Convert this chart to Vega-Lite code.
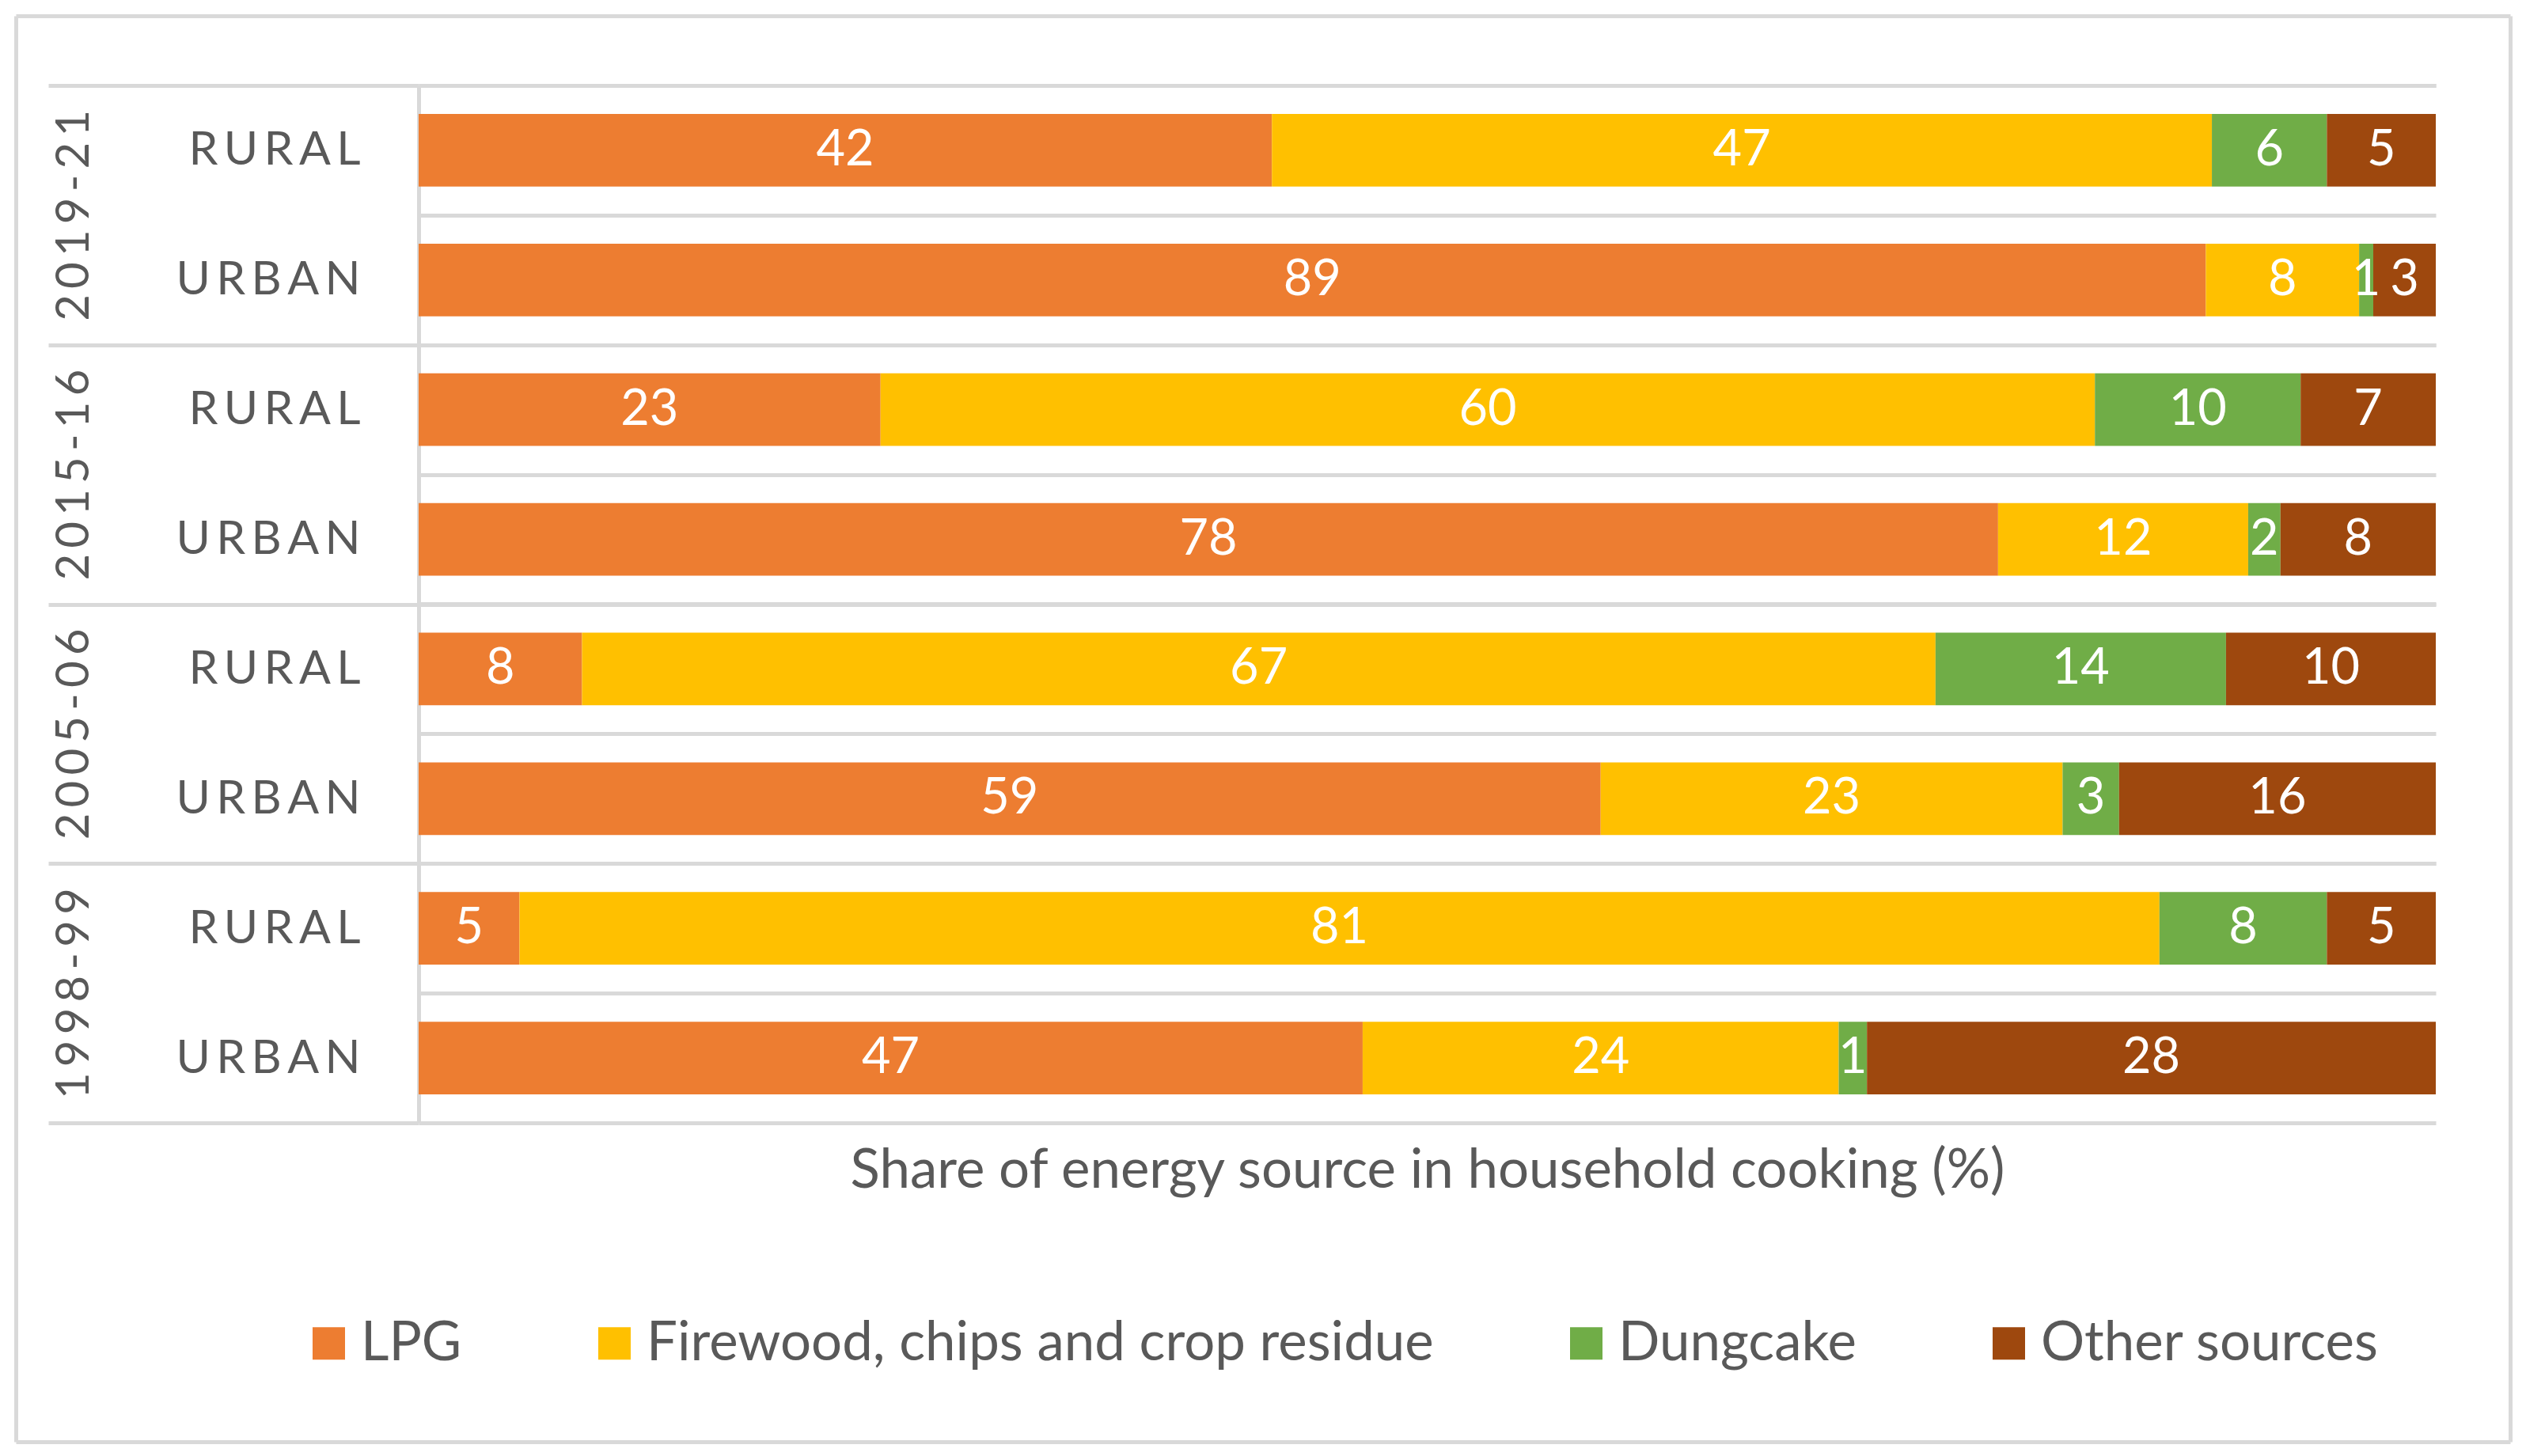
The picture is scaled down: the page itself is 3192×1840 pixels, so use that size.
{
  "$schema": "https://vega.github.io/schema/vega-lite/v6.json",
  "width": 2549,
  "height": 1311,
  "autosize": {"type": "none"},
  "padding": {"left": 529, "top": 108, "right": 114, "bottom": 421},
  "background": "white",
  "config": {"view": {"stroke": null}, "font": "Lato"},
  "datasets": {
    "shares": [
      {"period": "2019-21", "area": "RURAL", "row": "2019-21 RURAL", "source": "LPG", "order": 1, "value": 42.3},
      {"period": "2019-21", "area": "RURAL", "row": "2019-21 RURAL", "source": "Firewood, chips and crop residue", "order": 2, "value": 46.6},
      {"period": "2019-21", "area": "RURAL", "row": "2019-21 RURAL", "source": "Dungcake", "order": 3, "value": 5.7},
      {"period": "2019-21", "area": "RURAL", "row": "2019-21 RURAL", "source": "Other sources", "order": 4, "value": 5.4},
      {"period": "2019-21", "area": "URBAN", "row": "2019-21 URBAN", "source": "LPG", "order": 1, "value": 88.6},
      {"period": "2019-21", "area": "URBAN", "row": "2019-21 URBAN", "source": "Firewood, chips and crop residue", "order": 2, "value": 7.6},
      {"period": "2019-21", "area": "URBAN", "row": "2019-21 URBAN", "source": "Dungcake", "order": 3, "value": 0.7},
      {"period": "2019-21", "area": "URBAN", "row": "2019-21 URBAN", "source": "Other sources", "order": 4, "value": 3.1},
      {"period": "2015-16", "area": "RURAL", "row": "2015-16 RURAL", "source": "LPG", "order": 1, "value": 22.9},
      {"period": "2015-16", "area": "RURAL", "row": "2015-16 RURAL", "source": "Firewood, chips and crop residue", "order": 2, "value": 60.2},
      {"period": "2015-16", "area": "RURAL", "row": "2015-16 RURAL", "source": "Dungcake", "order": 3, "value": 10.2},
      {"period": "2015-16", "area": "RURAL", "row": "2015-16 RURAL", "source": "Other sources", "order": 4, "value": 6.7},
      {"period": "2015-16", "area": "URBAN", "row": "2015-16 URBAN", "source": "LPG", "order": 1, "value": 78.3},
      {"period": "2015-16", "area": "URBAN", "row": "2015-16 URBAN", "source": "Firewood, chips and crop residue", "order": 2, "value": 12.4},
      {"period": "2015-16", "area": "URBAN", "row": "2015-16 URBAN", "source": "Dungcake", "order": 3, "value": 1.6},
      {"period": "2015-16", "area": "URBAN", "row": "2015-16 URBAN", "source": "Other sources", "order": 4, "value": 7.7},
      {"period": "2005-06", "area": "RURAL", "row": "2005-06 RURAL", "source": "LPG", "order": 1, "value": 8.1},
      {"period": "2005-06", "area": "RURAL", "row": "2005-06 RURAL", "source": "Firewood, chips and crop residue", "order": 2, "value": 67.1},
      {"period": "2005-06", "area": "RURAL", "row": "2005-06 RURAL", "source": "Dungcake", "order": 3, "value": 14.4},
      {"period": "2005-06", "area": "RURAL", "row": "2005-06 RURAL", "source": "Other sources", "order": 4, "value": 10.4},
      {"period": "2005-06", "area": "URBAN", "row": "2005-06 URBAN", "source": "LPG", "order": 1, "value": 58.6},
      {"period": "2005-06", "area": "URBAN", "row": "2005-06 URBAN", "source": "Firewood, chips and crop residue", "order": 2, "value": 22.9},
      {"period": "2005-06", "area": "URBAN", "row": "2005-06 URBAN", "source": "Dungcake", "order": 3, "value": 2.8},
      {"period": "2005-06", "area": "URBAN", "row": "2005-06 URBAN", "source": "Other sources", "order": 4, "value": 15.7},
      {"period": "1998-99", "area": "RURAL", "row": "1998-99 RURAL", "source": "LPG", "order": 1, "value": 5.0},
      {"period": "1998-99", "area": "RURAL", "row": "1998-99 RURAL", "source": "Firewood, chips and crop residue", "order": 2, "value": 81.3},
      {"period": "1998-99", "area": "RURAL", "row": "1998-99 RURAL", "source": "Dungcake", "order": 3, "value": 8.3},
      {"period": "1998-99", "area": "RURAL", "row": "1998-99 RURAL", "source": "Other sources", "order": 4, "value": 5.4},
      {"period": "1998-99", "area": "URBAN", "row": "1998-99 URBAN", "source": "LPG", "order": 1, "value": 46.8},
      {"period": "1998-99", "area": "URBAN", "row": "1998-99 URBAN", "source": "Firewood, chips and crop residue", "order": 2, "value": 23.6},
      {"period": "1998-99", "area": "URBAN", "row": "1998-99 URBAN", "source": "Dungcake", "order": 3, "value": 1.4},
      {"period": "1998-99", "area": "URBAN", "row": "1998-99 URBAN", "source": "Other sources", "order": 4, "value": 28.2}
    ]
  },
  "data": {"name": "shares"},
  "layer": [
    {
      "encoding": {
        "y": {
          "field": "row",
          "type": "nominal",
          "sort": ["2019-21 RURAL", "2019-21 URBAN", "2015-16 RURAL", "2015-16 URBAN", "2005-06 RURAL", "2005-06 URBAN", "1998-99 RURAL", "1998-99 URBAN"],
          "scale": {"paddingInner": 0.44, "paddingOuter": 0.22},
          "axis": {
            "orient": "left",
            "title": null,
            "ticks": false,
            "domain": true,
            "domainColor": "#d9d9d9",
            "domainWidth": 5,
            "grid": true,
            "gridColor": "#d9d9d9",
            "gridWidth": 5,
            "tickOffset": -81.94,
            "labelOffset": 81.94,
            "labelExpr": "join(split(slice(datum.value, 8), ''), '\u2009')",
            "labelFontSize": 59,
            "labelLimit": 1000,
            "labelColor": "#595959",
            "labelPadding": 74,
            "labelAlign": "right",
            "labelBaseline": "middle"
          }
        }
      },
      "layer": [
        {
          "mark": {"type": "bar"},
          "encoding": {
            "x": {
              "field": "value",
              "type": "quantitative",
              "stack": "zero",
              "scale": {"domain": [0, 100], "nice": false},
              "axis": {
                "orient": "bottom",
                "title": "Share of energy source in household cooking (%)",
                "labels": false,
                "ticks": false,
                "domain": false,
                "grid": false,
                "titleFontSize": 69,
                "titleFontWeight": "normal",
                "titleColor": "#595959",
                "titlePadding": 26
              }
            },
            "color": {
              "field": "source",
              "type": "nominal",
              "scale": {
                "domain": ["LPG", "Firewood, chips and crop residue", "Dungcake", "Other sources"],
                "range": ["#ED7D31", "#FFC000", "#70AD47", "#9E480E"]
              },
              "legend": {
                "title": null,
                "orient": "none",
                "legendX": -148,
                "legendY": 1555,
                "padding": 0,
                "direction": "horizontal",
                "symbolType": "square",
                "symbolSize": 1681,
                "symbolStrokeWidth": 0,
                "labelFontSize": 69,
                "labelColor": "#595959",
                "labelOffset": 6,
                "labelLimit": 2000,
                "columnPadding": 158
              }
            },
            "order": {"field": "order", "type": "quantitative"}
          }
        },
        {
          "transform": [
            {"stack": "value", "groupby": ["row"], "sort": [{"field": "order", "order": "ascending"}], "as": ["x0", "x1"]},
            {"calculate": "(datum.x0 + datum.x1) / 2", "as": "mid"}
          ],
          "mark": {"type": "text", "color": "white", "fontSize": 63, "align": "center", "baseline": "middle"},
          "encoding": {
            "x": {"field": "mid", "type": "quantitative"},
            "text": {"field": "value", "type": "quantitative", "format": ".0f"}
          }
        }
      ]
    },
    {
      "mark": {"type": "bar", "opacity": 0},
      "encoding": {
        "y": {
          "field": "period",
          "type": "nominal",
          "sort": ["2019-21", "2015-16", "2005-06", "1998-99"],
          "scale": {"paddingInner": 0, "paddingOuter": 0},
          "axis": {
            "orient": "left",
            "title": null,
            "domain": false,
            "ticks": true,
            "tickBand": "extent",
            "tickSize": 468,
            "tickColor": "#d9d9d9",
            "tickWidth": 5,
            "grid": true,
            "gridColor": "#d9d9d9",
            "gridWidth": 5,
            "labelExpr": "datum.value == null ? '' : join(split(datum.value, ''), '\u2009')",
            "labelAngle": -90,
            "labelAlign": "center",
            "labelBaseline": "middle",
            "labelPadding": -33,
            "labelFontSize": 58,
            "labelLimit": 1000,
            "labelColor": "#595959"
          }
        }
      }
    },
    {
      "mark": {"type": "point", "opacity": 0},
      "encoding": {
        "x": {
          "field": "value", "type": "quantitative",
          "scale": {"domain": [0, 100], "range": [-509, 2643], "nice": false, "zero": false},
          "axis": {"orient": "top", "offset": 88, "labels": false, "ticks": false, "grid": false, "title": null, "domain": true, "domainColor": "#d9d9d9", "domainWidth": 5}
        },
        "y": {
          "field": "value", "type": "quantitative",
          "scale": {"domain": [0, 100], "range": [1714, -88], "nice": false, "zero": false},
          "axis": {"orient": "left", "offset": 509, "labels": false, "ticks": false, "grid": false, "title": null, "domain": true, "domainColor": "#d9d9d9", "domainWidth": 5}
        }
      }
    },
    {
      "mark": {"type": "point", "opacity": 0},
      "encoding": {
        "x": {
          "field": "value", "type": "quantitative",
          "scale": {"domain": [0, 100], "range": [-509, 2643], "nice": false, "zero": false},
          "axis": {"orient": "bottom", "offset": 403, "labels": false, "ticks": false, "grid": false, "title": null, "domain": true, "domainColor": "#d9d9d9", "domainWidth": 5}
        },
        "y": {
          "field": "value", "type": "quantitative",
          "scale": {"domain": [0, 100], "range": [1714, -88], "nice": false, "zero": false},
          "axis": {"orient": "right", "offset": 94, "labels": false, "ticks": false, "grid": false, "title": null, "domain": true, "domainColor": "#d9d9d9", "domainWidth": 5}
        }
      }
    }
  ],
  "resolve": {"scale": {"x": "independent", "y": "independent"}}
}
